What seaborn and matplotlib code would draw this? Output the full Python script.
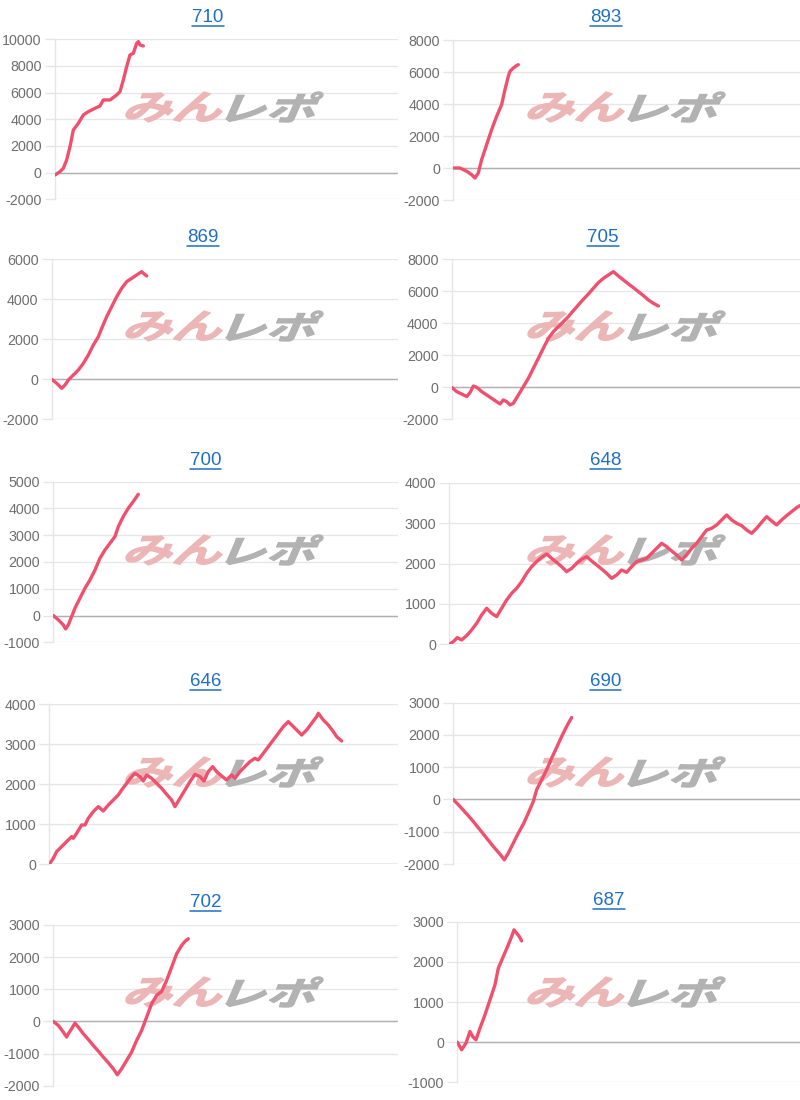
import numpy as np
import matplotlib
matplotlib.use("Agg")
import matplotlib.pyplot as plt
import seaborn as sns
from matplotlib.textpath import TextPath
from matplotlib.font_manager import FontProperties
from matplotlib.patches import PathPatch
from matplotlib.transforms import Affine2D, IdentityTransform
from matplotlib.lines import Line2D

# ---------------- data ----------------
titles = ["710", "893", "869", "705", "700", "648", "646", "690", "702", "687"]

x_710 = [0, 15, 25, 35, 45, 55, 70, 85, 100, 120, 135, 145, 165, 185, 195, 205, 215, 225, 235, 245, 250, 255, 265]
y_710 = [-175, 75, 325, 950, 1950, 3200, 3700, 4325, 4575, 4825, 5000, 5450, 5450, 5825, 6075, 6950, 7950,
         8825, 8950, 9700, 9825, 9575, 9500]

x_893 = [0, 20, 30, 40, 55, 65, 75, 85, 95, 105, 115, 130, 145, 155, 165, 170, 180, 190, 195]
y_893 = [0, 0, -100, -200, -420, -625, -310, 520, 1145, 1770, 2400, 3230, 3960, 4900, 5730, 6040, 6250, 6400, 6460]

x_869 = [0, 15, 30, 40, 50, 65, 80, 95, 110, 125, 140, 150, 165, 180, 195, 210, 225, 240, 255, 270, 275, 285]
y_869 = [0, -200, -450, -283, -33, 217, 467, 800, 1217, 1717, 2133, 2550, 3133, 3633, 4133, 4550, 4883, 5050,
         5217, 5383, 5300, 5167]

x_705 = [0, 15, 30, 45, 55, 65, 75, 90, 105, 120, 135, 145, 155, 165, 175, 185, 200, 215, 230, 245, 260, 275,
         290, 305, 320, 335, 350, 365, 380, 395, 410, 425, 440, 455, 470, 485, 500, 515, 530, 545, 560, 575,
         590, 605, 620]
y_705 = [0, -270, -420, -580, -330, 80, 0, -270, -480, -690, -900, -1040, -790, -900, -1100, -1000, -480, 40,
         560, 1190, 1810, 2440, 3060, 3480, 3790, 4100, 4420, 4790, 5150, 5500, 5830, 6190, 6540, 6810, 7020,
         7230, 6960, 6710, 6460, 6230, 5980, 5730, 5460, 5250, 5080]

x_700 = [0, 15, 30, 37, 45, 55, 65, 80, 95, 110, 125, 140, 155, 170, 185, 195, 210, 225, 240, 255]
y_700 = [0, -160, -350, -500, -350, -40, 275, 650, 1020, 1330, 1700, 2140, 2450, 2700, 2950, 3320, 3700,
         4010, 4260, 4530]

x_648 = [0, 12, 24, 37, 52, 67, 82, 97, 112, 127, 142, 157, 172, 187, 202, 217, 232, 247, 262, 277, 292, 307,
         322, 337, 352, 367, 382, 397, 412, 427, 442, 457, 472, 487, 502, 517, 532, 547, 562, 577, 592, 607,
         622, 637, 652, 667, 682, 697, 712, 727, 742, 757, 772, 787, 802, 817, 832, 847, 862, 877, 892, 907,
         922, 937, 952, 967, 982, 997, 1012, 1027, 1042, 1052]
y_648 = [0, 66, 165, 107, 215, 355, 520, 726, 891, 767, 685, 891, 1097, 1262, 1386, 1551, 1757, 1922, 2046,
         2153, 2236, 2128, 2029, 1922, 1798, 1880, 2004, 2103, 2170, 2062, 1963, 1864, 1757, 1633, 1715, 1839,
         1781, 1922, 2046, 2087, 2128, 2252, 2376, 2500, 2417, 2310, 2211, 2087, 2211, 2376, 2500, 2665, 2830,
         2871, 2954, 3078, 3201, 3078, 2995, 2937, 2830, 2747, 2871, 3020, 3160, 3053, 2954, 3078, 3185, 3284,
         3383, 3433]

x_646 = [0, 12, 22, 37, 52, 67, 72, 82, 97, 107, 117, 132, 147, 162, 177, 192, 207, 217, 232, 247, 257, 272,
         282, 292, 307, 322, 337, 352, 367, 377, 392, 407, 422, 437, 452, 464, 477, 490, 502, 517, 532, 547,
         557, 572, 587, 602, 617, 627, 642, 657, 672, 687, 702, 717, 732, 747, 757, 772, 787, 802, 807, 822,
         837, 852, 862, 877]
y_646 = [0, 150, 317, 442, 567, 692, 650, 775, 983, 983, 1150, 1317, 1442, 1333, 1483, 1608, 1733, 1858, 2025,
         2192, 2275, 2192, 2083, 2233, 2150, 2025, 1900, 1750, 1608, 1442, 1650, 1858, 2067, 2250, 2192, 2083,
         2317, 2442, 2317, 2208, 2108, 2233, 2150, 2317, 2442, 2567, 2650, 2608, 2775, 2942, 3108, 3275, 3442,
         3567, 3442, 3317, 3233, 3358, 3525, 3692, 3775, 3608, 3483, 3317, 3192, 3083]

x_690 = [0, 20, 40, 60, 80, 100, 120, 140, 153, 165, 180, 195, 210, 225, 240, 250, 265, 280, 295, 310, 325,
         340, 355]
y_690 = [0, -217, -444, -682, -940, -1198, -1457, -1694, -1870, -1663, -1353, -1043, -764, -424, -62, 300, 610,
         919, 1281, 1612, 1953, 2263, 2541]

x_702 = [0, 15, 30, 40, 45, 55, 65, 75, 90, 105, 120, 135, 150, 165, 180, 192, 205, 220, 235, 250, 265, 280,
         295, 310, 325, 340, 355, 370, 385, 395, 405]
y_702 = [0, -124, -332, -487, -384, -228, -52, -176, -384, -560, -747, -923, -1110, -1286, -1473, -1660, -1473,
         -1213, -954, -591, -280, 135, 550, 809, 933, 1276, 1690, 2105, 2364, 2489, 2572]

x_687 = [0, 13, 26, 38, 46, 56, 68, 83, 98, 113, 123, 138, 153, 163, 170, 178, 186, 193]
y_687 = [0, -191, -25, 266, 141, 58, 349, 681, 1054, 1427, 1842, 2133, 2424, 2631, 2797, 2714, 2631, 2523]

series_x = [x_710, x_893, x_869, x_705, x_700, x_648, x_646, x_690, x_702, x_687]
series_y = [y_710, y_893, y_869, y_705, y_700, y_648, y_646, y_690, y_702, y_687]

y_lo = [-2000, -2000, -2000, -2000, -1000, 0, 0, -2000, -2000, -1000]
y_hi = [10000, 8000, 6000, 8000, 5000, 4000, 4000, 3000, 3000, 3000]
y_step = [2000, 2000, 2000, 2000, 1000, 1000, 1000, 1000, 1000, 1000]

# ---------------- layout (pixels) ----------------
W, H = 800, 1100
ax_left = [55, 453.3, 51.7, 451.7, 53.3, 449.3, 49.3, 453.3, 53.3, 457.3]
ax_top = [39.3, 40, 259.3, 259.3, 481.7, 482.7, 704.3, 702.7, 925, 921.7]
ax_bottom = [199.3, 200, 419.3, 419.3, 642.3, 644.3, 864.3, 864, 1085.7, 1082.3]
col_right = [398, 802]
title_cx = [208, 606, 203, 603, 205.5, 605.5, 205.5, 605.5, 205.5, 609]
title_cy = [17, 17, 237, 237, 460.5, 460.5, 681.7, 681.7, 902.5, 900.3]
wm_cx = [224, 626]
wm_cy = [107, 326, 550, 772, 992]

LINE = "#f0506e"
BLUE = "#1f6fc5"
GRID = "#e6e6e6"
ZERO = "#b0b0b0"
TICK = "#6e6e6e"
PINK = "#ecb6b6"
GRAYWM = "#b2b2b2"

sns.set_theme(style="white")
plt.rcParams["font.family"] = ["Liberation Sans", "DejaVu Sans"]

fig = plt.figure(figsize=(W / 100, H / 100), dpi=100)
fig.patch.set_facecolor("white")

fp_wm = FontProperties(family="Noto Sans CJK JP", weight="bold")


def watermark(ax, text, x0, x1, yc, h, color):
    tp = TextPath((0, 0), text, prop=fp_wm, size=50)
    p2 = Affine2D().skew_deg(16, 0).transform_path(tp)
    e2 = p2.get_extents()
    sx = (x1 - x0) / e2.width
    sy = h / e2.height
    tr = Affine2D().translate(-e2.x0, -e2.y0).scale(sx, sy).translate(x0, H - yc - h / 2)
    p3 = tr.transform_path(p2)
    patch = PathPatch(p3, transform=IdentityTransform(), facecolor=color,
                      edgecolor=color, linewidth=1.0, joinstyle="round",
                      zorder=1.5, clip_on=False)
    ax.add_artist(patch)


title_texts = []
for i in range(10):
    col = i % 2
    row = i // 2
    l, t, b = ax_left[i], ax_top[i], ax_bottom[i]
    r = col_right[col]
    ax = fig.add_axes([l / W, 1 - b / H, (r - l) / W, (b - t) / H])
    ax.set_facecolor("white")
    sns.lineplot(x=series_x[i], y=series_y[i], ax=ax, color=LINE, linewidth=2.4,
                 estimator=None, sort=False, zorder=3, solid_joinstyle="round",
                 solid_capstyle="round")
    ax.set_xlim(0, (r - l) * 3)
    ax.set_ylim(y_lo[i], y_hi[i])
    ticks = np.arange(y_lo[i], y_hi[i] + y_step[i], y_step[i])
    ax.set_yticks(ticks)
    ax.set_yticklabels([str(int(v)) for v in ticks])
    ax.set_xticks([])
    ax.set_xlabel("")
    ax.set_ylabel("")
    ax.set_axisbelow(True)
    ax.yaxis.grid(True, color=GRID, linewidth=1)
    ax.xaxis.grid(False)
    ax.axhline(0, color=ZERO, linewidth=1, zorder=1)
    for s in ["top", "right", "bottom"]:
        ax.spines[s].set_visible(False)
    ax.spines["left"].set_color(GRID)
    ax.spines["left"].set_linewidth(1)
    ax.tick_params(axis="y", left=True, length=7, width=1, color=GRID, pad=2.5,
                   labelsize=10.3, labelcolor=TICK)
    for lab in ax.get_yticklabels():
        lab.set_clip_on(False)
    # watermark
    cx, cy = wm_cx[col], wm_cy[row]
    watermark(ax, "みん", cx - 98, cx - 2, cy, 30, PINK)
    watermark(ax, "レポ", cx + 2, cx + 99, cy, 30, GRAYWM)
    # title
    tt = fig.text(title_cx[i] / W, 1 - title_cy[i] / H, titles[i], ha="center", va="center",
                  color=BLUE, fontsize=13.5)
    title_texts.append((tt, title_cy[i]))

fig.canvas.draw()
renderer = fig.canvas.get_renderer()
for tt, cy in title_texts:
    bb = tt.get_window_extent(renderer)
    yline = H - (cy + 8.5)
    fig.add_artist(Line2D([bb.x0, bb.x1], [yline, yline], transform=IdentityTransform(),
                          color=BLUE, linewidth=1.1))

fig.savefig("out.png", dpi=100, facecolor="white")
